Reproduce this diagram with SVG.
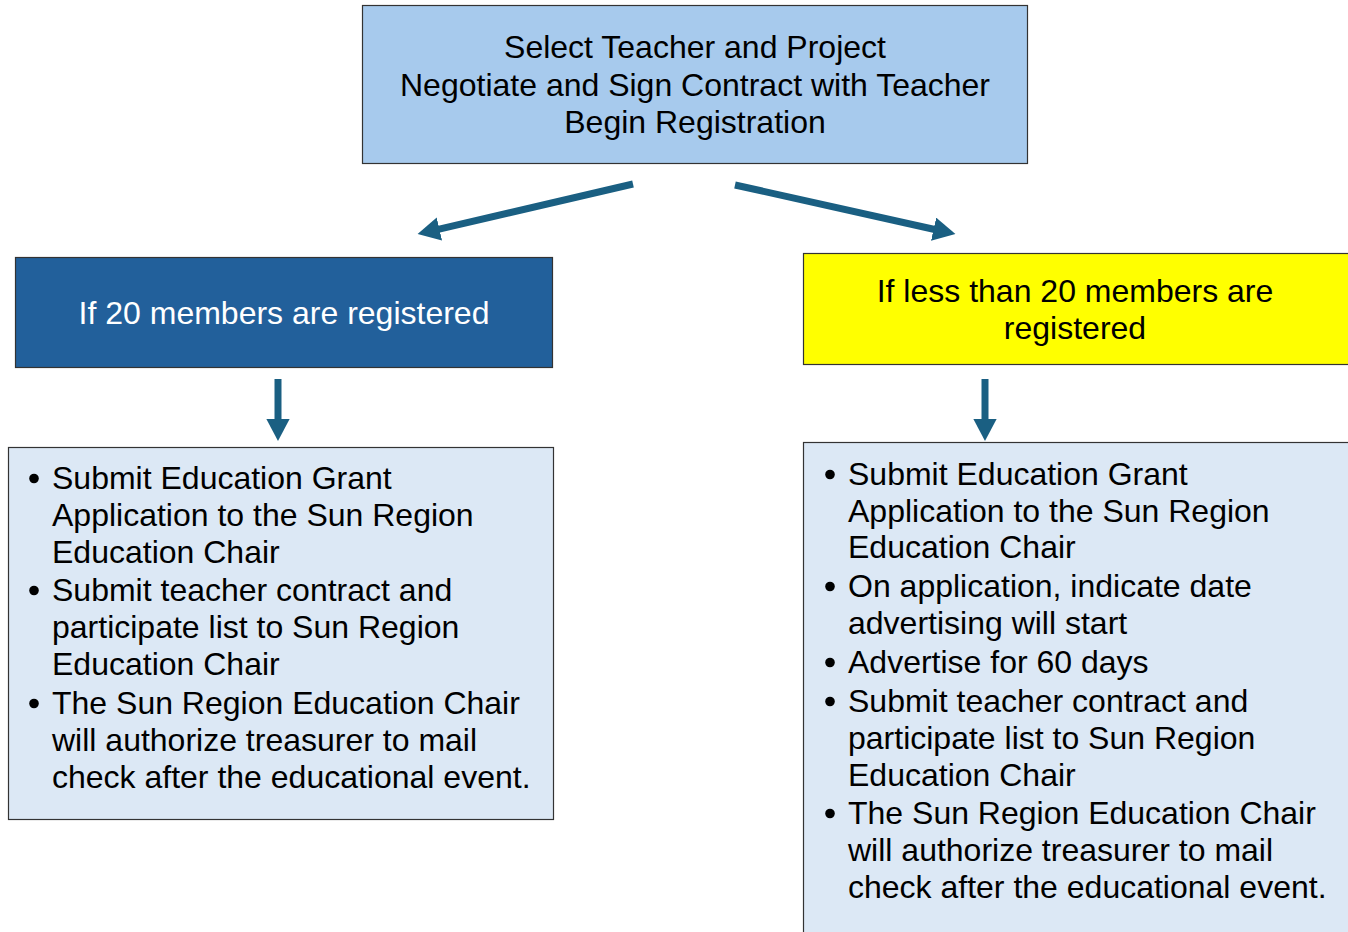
<svg xmlns="http://www.w3.org/2000/svg" width="1348" height="932" viewBox="0 0 1348 932">
<style>
  .t { font-family: "Liberation Sans", Arial, sans-serif; font-size: 32px; fill: #000; }
  .c { text-anchor: middle; }
  .w { fill: #fff; }
  .box { stroke: #333; stroke-width: 1.2; }
  .dot { fill: #000; }
  .conn { stroke: #1a5f82; stroke-width: 7; fill: none; marker-end: url(#ah); }
</style>
<defs>
  <marker id="ah" markerUnits="strokeWidth" markerWidth="3.2" markerHeight="3.4" refX="0.5" refY="1.7" orient="auto">
    <path d="M0,0 L3.2,1.7 L0,3.4 Z" fill="#1a5f82"/>
  </marker>
</defs>
<rect width="1348" height="932" fill="#fff"/>
<g id="top">
  <rect class="box" x="362.5" y="5.5" width="665" height="158" fill="#a7caed"/>
  <text class="t c" x="695" y="58">Select Teacher and Project</text>
  <text class="t c" x="695" y="96">Negotiate and Sign Contract with Teacher</text>
  <text class="t c" x="695" y="133">Begin Registration</text>
</g>
<g id="left-cond">
  <rect class="box" x="15.5" y="257.5" width="537" height="110" fill="#22609b"/>
  <text class="t c w" x="284" y="324">If 20 members are registered</text>
</g>
<g id="right-cond">
  <rect class="box" x="803.5" y="253.5" width="560" height="111" fill="#ffff00"/>
  <text class="t c" x="1075" y="302">If less than 20 members are</text>
  <text class="t c" x="1075" y="339">registered</text>
</g>
<g id="left-list">
  <rect class="box" x="8.5" y="447.5" width="545" height="372" fill="#dce8f5"/>
  <circle class="dot" cx="34" cy="478.5" r="4.8"/>
  <text class="t" x="52" y="489">Submit Education Grant</text>
  <text class="t" x="52" y="526">Application to the Sun Region</text>
  <text class="t" x="52" y="563">Education Chair</text>
  <circle class="dot" cx="34" cy="590.5" r="4.8"/>
  <text class="t" x="52" y="601">Submit teacher contract and</text>
  <text class="t" x="52" y="638">participate list to Sun Region</text>
  <text class="t" x="52" y="675">Education Chair</text>
  <circle class="dot" cx="34" cy="703.5" r="4.8"/>
  <text class="t" x="52" y="714">The Sun Region Education Chair</text>
  <text class="t" x="52" y="751">will authorize treasurer to mail</text>
  <text class="t" x="52" y="788">check after the educational event.</text>
</g>
<g id="right-list">
  <rect class="box" x="803.5" y="442.5" width="560" height="500" fill="#dce8f5"/>
  <circle class="dot" cx="830" cy="474.5" r="4.8"/>
  <text class="t" x="848" y="485">Submit Education Grant</text>
  <text class="t" x="848" y="522">Application to the Sun Region</text>
  <text class="t" x="848" y="558">Education Chair</text>
  <circle class="dot" cx="830" cy="586.5" r="4.8"/>
  <text class="t" x="848" y="597">On application, indicate date</text>
  <text class="t" x="848" y="634">advertising will start</text>
  <circle class="dot" cx="830" cy="662.5" r="4.8"/>
  <text class="t" x="848" y="673">Advertise for 60 days</text>
  <circle class="dot" cx="830" cy="701.5" r="4.8"/>
  <text class="t" x="848" y="712">Submit teacher contract and</text>
  <text class="t" x="848" y="749">participate list to Sun Region</text>
  <text class="t" x="848" y="786">Education Chair</text>
  <circle class="dot" cx="830" cy="813.5" r="4.8"/>
  <text class="t" x="848" y="824">The Sun Region Education Chair</text>
  <text class="t" x="848" y="861">will authorize treasurer to mail</text>
  <text class="t" x="848" y="898">check after the educational event.</text>
</g>
<g id="connectors">
  <line class="conn" x1="633" y1="184" x2="436" y2="229.8"/>
  <line class="conn" x1="735" y1="185" x2="937" y2="230"/>
  <line class="conn" x1="278" y1="379" x2="278" y2="422"/>
  <line class="conn" x1="985" y1="379" x2="985" y2="422"/>
</g>
</svg>
